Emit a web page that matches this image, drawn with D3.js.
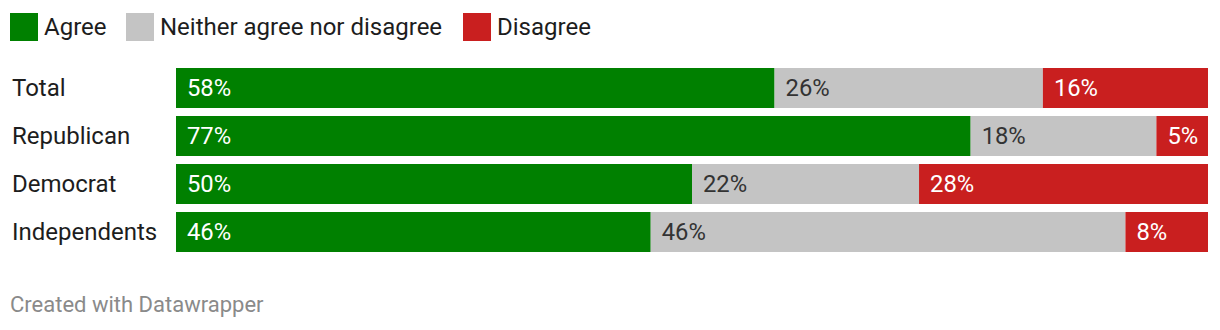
<!DOCTYPE html>
<html><head><meta charset="utf-8">
<script src="https://cdn.jsdelivr.net/npm/d3@7"></script>
<style>
body{margin:0;background:#fff;font-family:Roboto,"Noto Sans",sans-serif;}
</style></head>
<body><svg id="c" width="1220" height="330"></svg>
<script>
const categories = ["Total","Republican","Democrat","Independents"];
const seriesNames = ["Agree","Neither agree nor disagree","Disagree"];
const agree = [58,77,50,46];
const neither = [26,18,22,46];
const disagree = [16,5,28,8];
const colors = ["#008000","#c4c4c4","#c91f1f"];
const labelColors = ["#ffffff","#333333","#ffffff"];

const svg = d3.select("#c");
const x = d3.scaleLinear().domain([0,100]).range([176,1208]);
const y = d3.scaleBand().domain(categories).range([68,252]).paddingInner(8/48).paddingOuter(0);
const rows = categories.map((c,i)=>({cat:c, vals:[agree[i],neither[i],disagree[i]]}));
const segs = [];
rows.forEach(r=>{let acc=0; r.vals.forEach((v,j)=>{segs.push({cat:r.cat,j,x0:acc,x1:acc+v,v}); acc+=v;});});

svg.append("g").selectAll("rect").data(segs).join("rect")
  .attr("x",d=>x(d.x0)).attr("width",d=>x(d.x1)-x(d.x0))
  .attr("y",d=>y(d.cat)).attr("height",y.bandwidth())
  .attr("fill",d=>colors[d.j]);

svg.append("g").selectAll("text").data(segs).join("text")
  .attr("x",d=>x(d.x0)+11).attr("y",d=>y(d.cat)+y.bandwidth()/2)
  .attr("dy","0.35em").attr("font-size",23.8).attr("fill",d=>labelColors[d.j])
  .text(d=>d.v+"%");

svg.append("g").selectAll("text").data(categories).join("text")
  .attr("x",12).attr("y",d=>y(d)+y.bandwidth()/2).attr("dy","0.35em")
  .attr("font-size",24).attr("fill","#1d1d1d").text(d=>d);

// legend
const legX = [10,126,463];
const leg = svg.append("g").selectAll("g").data(seriesNames).join("g")
  .attr("transform",(d,i)=>`translate(${legX[i]},13)`);
leg.append("rect").attr("width",28).attr("height",28).attr("fill",(d,i)=>colors[i]);
leg.append("text").attr("x",34).attr("y",14).attr("dy","0.35em").attr("font-size",24)
  .attr("fill","#1d1d1d").text(d=>d);

svg.append("text").attr("x",10).attr("y",304).attr("dy","0.35em").attr("font-size",22)
  .attr("fill","#8a8a8a").text("Created with Datawrapper");
</script></body></html>
